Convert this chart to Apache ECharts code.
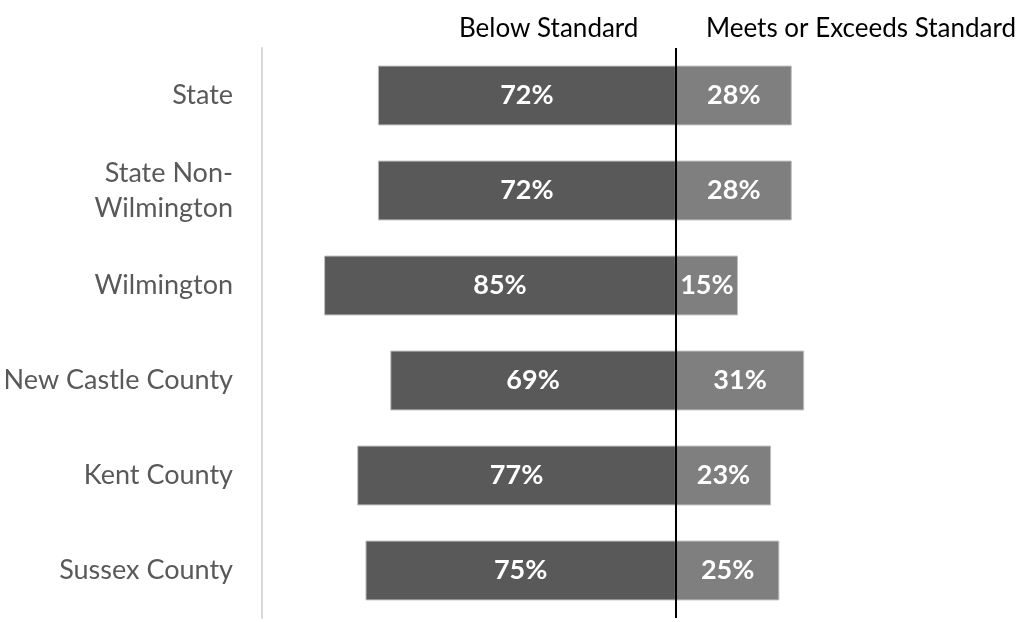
<!DOCTYPE html>
<html><head><meta charset="utf-8">
<script src="https://cdn.jsdelivr.net/npm/echarts@6/dist/echarts.min.js"></script>
<style>html,body{margin:0;padding:0;background:#fff}#c{width:1029px;height:622px}</style>
</head><body><div id="c"></div>
<script>
const categories = ['State', 'State Non-\nWilmington', 'Wilmington', 'New Castle County', 'Kent County', 'Sussex County'];
const belowStandard = [72, 72, 85, 69, 77, 75];
const meetsStandard = [28, 28, 15, 31, 23, 25];
const headers = ['Below Standard', 'Meets or Exceeds Standard'];

const chart = echarts.init(document.getElementById('c'));
const FONT = 'Lato';
const barLabel = {
  show: true, position: 'inside', color: '#fff', fontWeight: 'bold',
  fontFamily: FONT, fontSize: 27,
  formatter: p => Math.abs(p.value) + '%'
};
chart.setOption({
  animation: false,
  grid: { left: 262, top: 48, width: 745, height: 570, containLabel: false, outerBoundsMode: 'none' },
  xAxis: { type: 'value', min: -100, max: 80, show: false },
  yAxis: {
    type: 'category', data: categories, inverse: true,
    axisLine: { show: true, onZero: false, lineStyle: { color: '#d9d9d9', width: 2 } },
    axisTick: { show: false },
    axisLabel: { color: '#595959', fontFamily: FONT, fontSize: 27, margin: 29, lineHeight: 35, align: 'right' }
  },
  graphic: [
    { type: 'text', left: 459, top: 16, style: { text: headers[0], fill: '#000', font: '26px ' + FONT } },
    { type: 'text', left: 706, top: 16, style: { text: headers[1], fill: '#000', font: '26px ' + FONT } }
  ],
  series: [
    {
      name: headers[0], type: 'bar', stack: 's', barWidth: '63%',
      data: belowStandard.map(v => -v),
      itemStyle: { color: '#595959', borderColor: '#bfbfbf', borderWidth: 1 },
      label: barLabel,
      markLine: {
        symbol: 'none', silent: true, label: { show: false },
        lineStyle: { color: '#000', width: 2, type: 'solid' },
        data: [{ xAxis: 0 }]
      },
      z: 2
    },
    {
      name: headers[1], type: 'bar', stack: 's', barWidth: '63%',
      data: meetsStandard,
      itemStyle: { color: '#7f7f7f', borderColor: '#bfbfbf', borderWidth: 1 },
      label: barLabel,
      z: 2
    }
  ]
});
</script></body></html>
